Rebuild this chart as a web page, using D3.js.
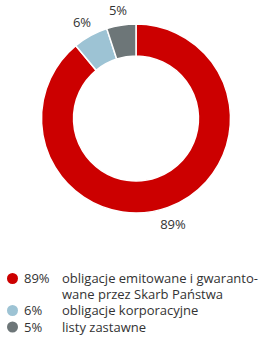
<!DOCTYPE html>
<html>
<head>
<meta charset="utf-8">
<script src="https://cdn.jsdelivr.net/npm/d3@7"></script>
<style>
body { margin: 0; background: #fff; }
text { font-family: "Open Sans", sans-serif; fill: #333; }
</style>
</head>
<body>
<div id="chart"></div>
<script>
var values = [89, 6, 5];
var pctLabels = ["89%", "6%", "5%"];
var names = [
	["obligacje emitowane i gwaranto-", "wane przez Skarb Państwa"],
	["obligacje korporacyjne"],
	["listy zastawne"]
];
var colors = ["#cc0000", "#9dc3d4", "#6d7678"];

var vis = d3.select("#chart").append("svg")
	.attr("width", 262)
	.attr("height", 338);

var cx = 136, cy = 118.5;
var outerR = 94.5, innerR = 62.5;

var pie = d3.pie().sort(null).value(function(d) { return d; });
var arc = d3.arc().innerRadius(innerR).outerRadius(outerR);
var arcs = pie(values);

var g = vis.append("g").attr("transform", "translate(" + cx + "," + cy + ")");

g.selectAll("path")
	.data(arcs)
	.enter()
	.append("path")
	.attr("d", arc)
	.attr("fill", function(d, i) { return colors[i]; })
	.attr("stroke", "#fff")
	.attr("stroke-width", 1.5);

// labels outside the ring
var labelOffsets = [[37, 110.5], [-54, -91.5], [-18, -103.5]];
g.selectAll("text.pct")
	.data(arcs)
	.enter()
	.append("text")
	.attr("class", "pct")
	.attr("x", function(d, i) { return labelOffsets[i][0]; })
	.attr("y", function(d, i) { return labelOffsets[i][1]; })
	.attr("text-anchor", "middle")
	.style("font-size", "13px")
	.text(function(d, i) { return pctLabels[i]; });

// legend
var rowY = [278.5, 310.5, 327];
var lineH = 16;
var leg = vis.append("g");
for (var i = 0; i < values.length; i++) {
	leg.append("circle")
		.attr("cx", 12.5)
		.attr("cy", rowY[i])
		.attr("r", 5.5)
		.attr("fill", colors[i]);
	leg.append("text")
		.attr("x", 24)
		.attr("y", rowY[i] + 4.5)
		.style("font-size", "13px")
		.text(pctLabels[i]);
	for (var j = 0; j < names[i].length; j++) {
		leg.append("text")
			.attr("x", 62)
			.attr("y", rowY[i] + 4.5 + j * lineH)
			.style("font-size", "13px")
			.text(names[i][j]);
	}
}
</script>
</body>
</html>
